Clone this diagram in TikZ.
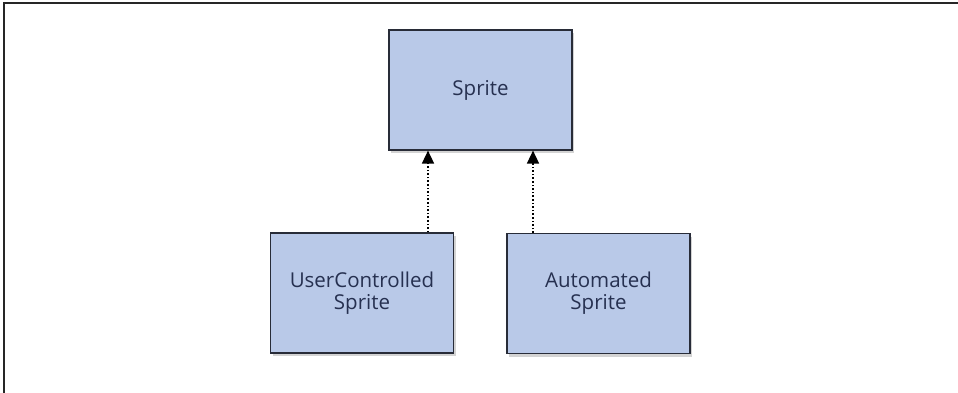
\documentclass[tikz,border=0pt]{standalone}
\usepackage{fontspec}
\setmainfont{Open Sans}
\usetikzlibrary{arrows.meta,shadows}
\definecolor{boxfill}{RGB}{185,201,232}
\definecolor{boxtext}{RGB}{38,48,80}
\definecolor{boxline}{RGB}{40,44,56}
\tikzset{
  classbox/.style={draw=boxline, line width=1.2pt, fill=boxfill, minimum width=183pt, minimum height=120pt, inner sep=0pt, align=center, font=\fontsize{20.5}{22}\selectfont, text=boxtext, drop shadow={shadow xshift=2pt, shadow yshift=-3pt, opacity=0.35}},
  inherit/.style={draw=black, line width=1.6pt, dotted, -{Triangle[length=13pt,width=12pt]}, shorten >=0pt}
}
\begin{document}
\begin{tikzpicture}[x=1pt,y=-1pt]
\useasboundingbox (0,0) rectangle (958,393);
\draw[line width=2pt, draw=black!85] (3.5,393) -- (3.5,3.5) -- (958,3.5);
\node[classbox] (sprite) at (480.5,90) {Sprite};
\node[classbox] (user) at (362,293) {UserControlled\\Sprite};
\node[classbox] (auto) at (598.5,293.5) {Automated\\Sprite};
\draw[inherit] (user.north -| 428,0) -- (sprite.south -| 428,0);
\draw[inherit] (auto.north -| 533,0) -- (sprite.south -| 533,0);
\end{tikzpicture}
\end{document}
